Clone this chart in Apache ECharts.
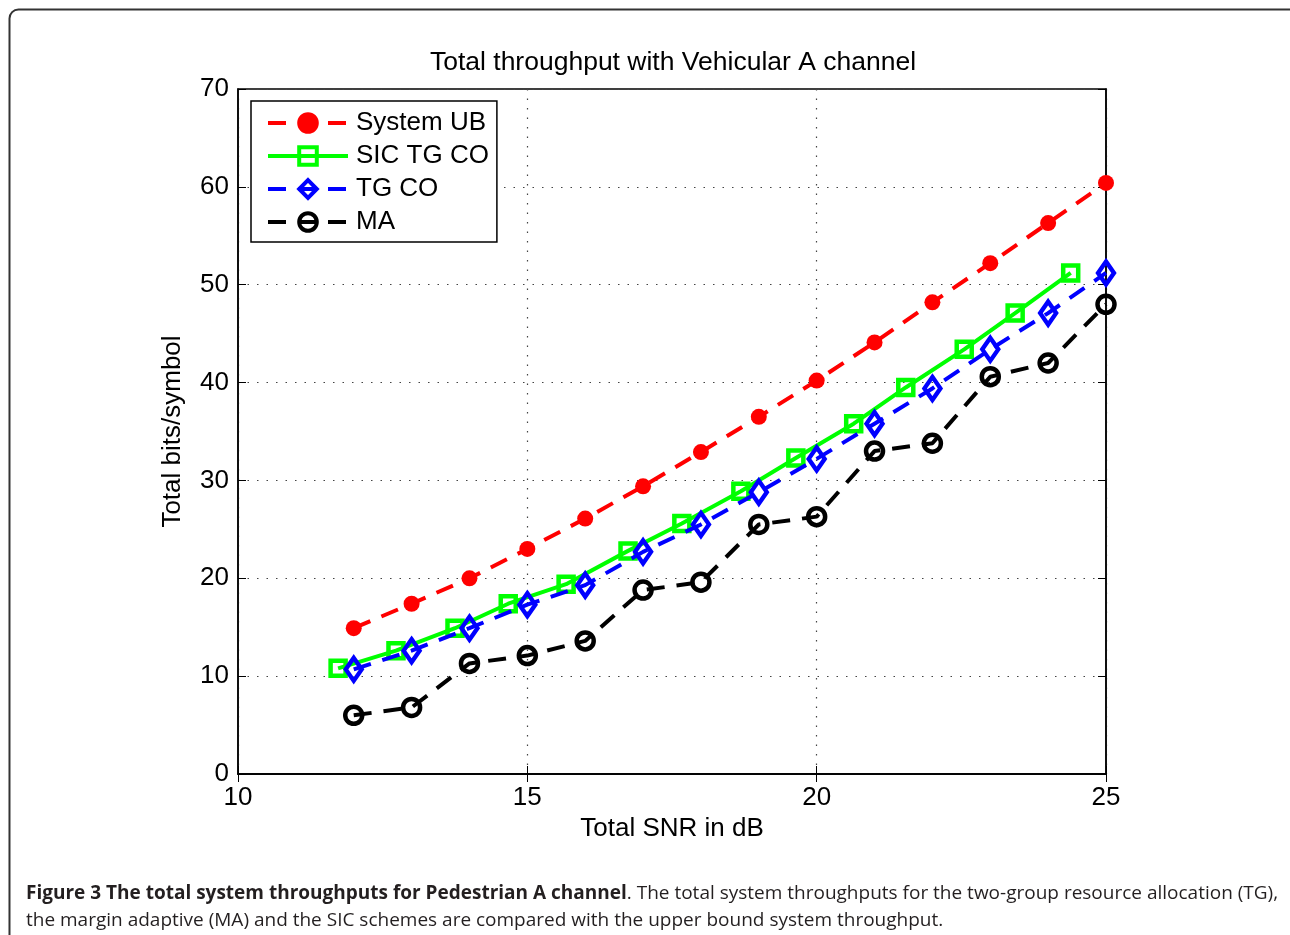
<!DOCTYPE html>
<html>
<head>
<meta charset="utf-8">
<script src="https://cdn.jsdelivr.net/npm/echarts@6/dist/echarts.min.js"></script>
<style>
  html, body { margin: 0; padding: 0; background: #fff; }
  #chart { width: 1290px; height: 935px; }
</style>
</head>
<body>
<div id="chart"></div>
<script>
(function () {
  'use strict';

  // SNR points (dB)
  var snr = [12, 13, 14, 15, 16, 17, 18, 19, 20, 21, 22, 23, 24, 25];
  // SIC TG CO is plotted slightly left of the integer SNR points
  var snrSic = [11.73, 12.73, 13.75, 14.67, 15.67, 16.74, 17.67, 18.69, 19.64, 20.64, 21.54, 22.55, 23.43, 24.39];

  var systemUB = [14.9, 17.4, 20.0, 23.0, 26.1, 29.4, 32.9, 36.5, 40.2, 44.1, 48.2, 52.2, 56.3, 60.4];
  var sicTgCo  = [10.8, 12.6, 14.9, 17.4, 19.4, 22.8, 25.6, 28.9, 32.3, 35.8, 39.5, 43.4, 47.1, 51.2];
  var tgCo     = [10.7, 12.6, 14.9, 17.3, 19.3, 22.7, 25.5, 28.8, 32.2, 35.8, 39.4, 43.4, 47.1, 51.2];
  var ma       = [6.0, 6.8, 11.3, 12.1, 13.6, 18.8, 19.6, 25.5, 26.3, 33.0, 33.8, 40.6, 42.0, 48.0];

  var xTicks = [10, 15, 20, 25];
  var yTicks = [0, 10, 20, 30, 40, 50, 60, 70];

  var seriesNames = ['System UB', 'SIC TG CO', 'TG CO', 'MA'];

  function pairs(xs, ys) {
    return ys.map(function (v, i) { return [xs[i], v]; });
  }

  var font = '"Liberation Sans", Arial, Helvetica, sans-serif';
  var fs = 26;
  var dash = [18, 12];

  var gridStyle = {
    show: true,
    lineStyle: { color: '#444', width: 1.2, type: [1.5, 8] }
  };

  var option = {
    animation: false,
    backgroundColor: '#fff',
    title: {
      text: 'Total throughput with Vehicular A channel',
      left: 668,
      top: 44,
      textAlign: 'center',
      textStyle: { fontFamily: font, fontSize: 26.5, fontWeight: 'normal', color: '#000' }
    },
    grid: {
      left: 238, right: 184, top: 89, bottom: 161,
      show: true, borderColor: '#000', borderWidth: 1.5
    },
    legend: {
      data: seriesNames,
      orient: 'vertical',
      left: 251,
      top: 101,
      padding: [9, 8, 7, 15],
      itemWidth: 80,
      itemHeight: 22,
      itemGap: 7,
      backgroundColor: '#fff',
      borderColor: '#000',
      borderWidth: 1.5,
      borderRadius: 0,
      lineStyle: { width: 4 },
      itemStyle: { borderWidth: 4 },
      textStyle: { fontFamily: font, fontSize: fs, color: '#000', lineHeight: 26, padding: [0, 0, 0, 3] }
    },
    xAxis: [{
      type: 'value',
      min: xTicks[0],
      max: xTicks[xTicks.length - 1],
      interval: 5,
      name: 'Total SNR in dB',
      nameLocation: 'middle',
      nameGap: 42,
      nameTextStyle: { fontFamily: font, fontSize: fs, color: '#000' },
      axisLine: { show: true, lineStyle: { color: '#000', width: 1.5 } },
      axisTick: { show: true, inside: true, length: 8, lineStyle: { color: '#000' } },
      axisLabel: { fontFamily: font, fontSize: fs, color: '#000', margin: 11 },
      splitLine: gridStyle
    }, {
      type: 'value',
      position: 'top',
      min: xTicks[0],
      max: xTicks[xTicks.length - 1],
      interval: 5,
      axisLine: { show: true, lineStyle: { color: '#000', width: 1.5 } },
      axisTick: { show: true, inside: true, length: 8, lineStyle: { color: '#000' } },
      axisLabel: { show: false },
      splitLine: { show: false }
    }],
    yAxis: [{
      type: 'value',
      min: yTicks[0],
      max: yTicks[yTicks.length - 1],
      interval: 10,
      name: 'Total bits/symbol',
      nameLocation: 'middle',
      nameGap: 52,
      nameTextStyle: { fontFamily: font, fontSize: fs, color: '#000' },
      axisLine: { show: true, lineStyle: { color: '#000', width: 1.5 } },
      axisTick: { show: true, inside: true, length: 8, lineStyle: { color: '#000' } },
      axisLabel: { fontFamily: font, fontSize: fs, color: '#000', margin: 9 },
      splitLine: gridStyle
    }, {
      type: 'value',
      position: 'right',
      min: yTicks[0],
      max: yTicks[yTicks.length - 1],
      interval: 10,
      axisLine: { show: true, lineStyle: { color: '#000', width: 1.5 } },
      axisTick: { show: true, inside: true, length: 8, lineStyle: { color: '#000' } },
      axisLabel: { show: false },
      splitLine: { show: false }
    }],
    series: [
      {
        name: seriesNames[0],
        type: 'line',
        data: pairs(snr, systemUB),
        symbol: 'circle',
        symbolSize: 16,
        itemStyle: { color: '#ff0000', borderColor: '#ff0000', borderWidth: 0 },
        lineStyle: { color: '#ff0000', width: 4, type: dash },
        z: 2
      },
      {
        name: seriesNames[1],
        type: 'line',
        data: pairs(snrSic, sicTgCo),
        symbol: 'rect',
        symbolSize: 15,
        itemStyle: { color: 'rgba(0,0,0,0)', borderColor: '#00ff00', borderWidth: 4.5 },
        lineStyle: { color: '#00ff00', width: 4, type: 'solid' },
        z: 3
      },
      {
        name: seriesNames[2],
        type: 'line',
        data: pairs(snr, tgCo),
        symbol: 'diamond',
        symbolSize: [16, 23],
        itemStyle: { color: 'rgba(0,0,0,0)', borderColor: '#0000ff', borderWidth: 4.5 },
        lineStyle: { color: '#0000ff', width: 4, type: dash },
        z: 4
      },
      {
        name: seriesNames[3],
        type: 'line',
        data: pairs(snr, ma),
        symbol: 'circle',
        symbolSize: 17,
        itemStyle: { color: 'rgba(0,0,0,0)', borderColor: '#000000', borderWidth: 4.5 },
        lineStyle: { color: '#000000', width: 4, type: dash },
        z: 5
      }
    ],
    graphic: [
      {
        type: 'rect',
        shape: { x: 9.5, y: 9.5, width: 1320, height: 1000, r: 9 },
        style: { fill: 'none', stroke: '#333', lineWidth: 2 },
        silent: true
      },
      {
        type: 'text',
        x: 26,
        y: 884,
        style: {
          text: '{b|Figure 3 The total system throughputs for Pedestrian A channel}. The total system throughputs for the two-group resource allocation (TG),',
          font: '19px "Open Sans", sans-serif',
          fill: '#231f20',
          rich: {
            b: { fontFamily: '"Open Sans", sans-serif', fontSize: 19, fontWeight: 'bold', fill: '#231f20' }
          }
        }
      },
      {
        type: 'text',
        x: 26,
        y: 911,
        style: {
          text: 'the margin adaptive (MA) and the SIC schemes are compared with the upper bound system throughput.',
          font: '19px "Open Sans", sans-serif',
          fill: '#231f20'
        }
      }
    ]
  };

  var myChart = echarts.init(document.getElementById('chart'), null, { renderer: 'canvas' });
  myChart.setOption(option);
})();
</script>
</body>
</html>
